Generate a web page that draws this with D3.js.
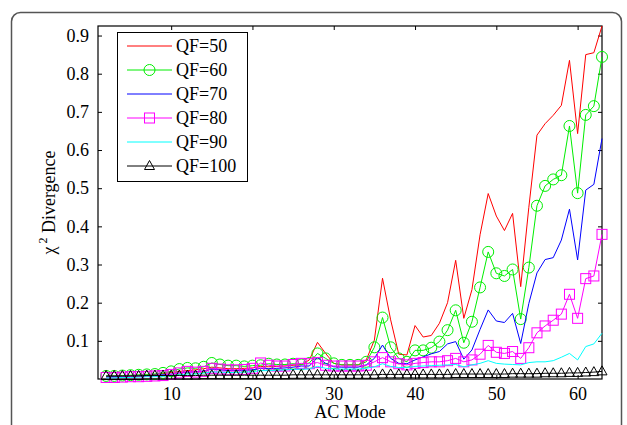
<!DOCTYPE html>
<html>
<head>
<meta charset="utf-8">
<script src="https://cdnjs.cloudflare.com/ajax/libs/d3/7.8.5/d3.min.js"></script>
<style>
  body { margin: 0; background: #fff; }
  text { font-family: "Liberation Serif", "Times New Roman", serif; }
</style>
</head>
<body>
<script>
var width = 627,
    height = 425;

// AC modes 2..63
var modes = d3.range(2, 64);

var qf50 = [0.006, 0.007, 0.008, 0.009, 0.010, 0.011, 0.012, 0.014, 0.017, 0.020, 0.022, 0.024, 0.027, 0.031, 0.029, 0.027, 0.027, 0.028, 0.029, 0.033, 0.032, 0.033, 0.034, 0.036,
  0.037, 0.050, 0.096, 0.067, 0.041, 0.037, 0.037, 0.037, 0.050, 0.102, 0.264, 0.155, 0.065, 0.063, 0.140, 0.110, 0.114, 0.146, 0.200, 0.311,
  0.159, 0.234, 0.378, 0.486, 0.427, 0.389, 0.434, 0.242, 0.450, 0.639, 0.669, 0.691, 0.717, 0.835, 0.643, 0.850, 0.855, 0.925];
var qf60 = [0.008, 0.008, 0.009, 0.010, 0.011, 0.012, 0.013, 0.016, 0.020, 0.026, 0.029, 0.028, 0.032, 0.042, 0.038, 0.035, 0.035, 0.033, 0.035, 0.036, 0.040, 0.038, 0.038, 0.040,
  0.038, 0.042, 0.067, 0.054, 0.041, 0.037, 0.037, 0.037, 0.045, 0.083, 0.161, 0.083, 0.054, 0.045, 0.075, 0.075, 0.082, 0.098, 0.128, 0.180,
  0.095, 0.150, 0.240, 0.333, 0.277, 0.270, 0.287, 0.157, 0.292, 0.454, 0.506, 0.523, 0.534, 0.663, 0.487, 0.692, 0.715, 0.844];
var qf70 = [0.005, 0.006, 0.006, 0.007, 0.008, 0.009, 0.010, 0.011, 0.013, 0.016, 0.018, 0.019, 0.021, 0.026, 0.024, 0.022, 0.022, 0.023, 0.024, 0.028, 0.027, 0.028, 0.029, 0.031,
  0.034, 0.034, 0.056, 0.041, 0.032, 0.031, 0.031, 0.031, 0.037, 0.054, 0.089, 0.054, 0.041, 0.040, 0.050, 0.058, 0.066, 0.072, 0.092, 0.098,
  0.052, 0.076, 0.130, 0.181, 0.152, 0.148, 0.172, 0.093, 0.198, 0.278, 0.313, 0.318, 0.364, 0.445, 0.312, 0.495, 0.510, 0.630];
var qf80 = [0.004, 0.004, 0.005, 0.006, 0.006, 0.007, 0.008, 0.009, 0.012, 0.016, 0.020, 0.018, 0.020, 0.028, 0.026, 0.024, 0.024, 0.025, 0.028, 0.042, 0.036, 0.034, 0.034, 0.038,
  0.041, 0.040, 0.043, 0.036, 0.034, 0.034, 0.034, 0.034, 0.036, 0.045, 0.056, 0.045, 0.040, 0.037, 0.041, 0.043, 0.045, 0.045, 0.048, 0.054,
  0.045, 0.050, 0.065, 0.088, 0.070, 0.067, 0.072, 0.054, 0.082, 0.121, 0.139, 0.154, 0.170, 0.222, 0.159, 0.263, 0.270, 0.379];
var qf90 = [0.003, 0.003, 0.004, 0.004, 0.005, 0.006, 0.006, 0.007, 0.009, 0.011, 0.013, 0.013, 0.015, 0.019, 0.018, 0.017, 0.017, 0.018, 0.019, 0.022, 0.022, 0.023, 0.024, 0.025,
  0.026, 0.026, 0.033, 0.028, 0.026, 0.026, 0.026, 0.026, 0.028, 0.032, 0.040, 0.033, 0.030, 0.030, 0.033, 0.034, 0.035, 0.036, 0.037, 0.038,
  0.032, 0.037, 0.041, 0.048, 0.041, 0.039, 0.038, 0.037, 0.043, 0.045, 0.045, 0.048, 0.057, 0.067, 0.050, 0.085, 0.092, 0.120];
var qf100 = [0.008, 0.008, 0.008, 0.008, 0.008, 0.009, 0.009, 0.009, 0.009, 0.009, 0.009, 0.009, 0.010, 0.010, 0.010, 0.010, 0.010, 0.010, 0.010, 0.010, 0.010, 0.010, 0.010, 0.011,
  0.011, 0.011, 0.011, 0.011, 0.011, 0.011, 0.011, 0.011, 0.011, 0.011, 0.012, 0.012, 0.012, 0.012, 0.012, 0.012, 0.012, 0.012, 0.012, 0.013,
  0.013, 0.013, 0.013, 0.013, 0.013, 0.013, 0.014, 0.014, 0.014, 0.014, 0.015, 0.015, 0.015, 0.016, 0.016, 0.017, 0.018, 0.020];

var seriesNames = ["QF=50", "QF=60", "QF=70", "QF=80", "QF=90", "QF=100"];
var seriesColors = ["#ff0000", "#00ee00", "#0000ff", "#ff00ff", "#00ffff", "#000000"];
var seriesMarkers = [null, "circle", null, "square", null, "triangle"];
var seriesValues = [qf50, qf60, qf70, qf80, qf90, qf100];

var xTicks = [10, 20, 30, 40, 50, 60];
var yTicks = [0.1, 0.2, 0.3, 0.4, 0.5, 0.6, 0.7, 0.8, 0.9];

var plotL = 98, plotR = 602, plotT = 26, plotB = 379;
var fs = "18px";

var x = d3.scaleLinear().domain([1, 63]).range([plotL, plotR]);
var y = d3.scaleLinear().domain([0, 0.925]).range([plotB, plotT]);

var svg = d3.select("body").append("svg")
    .attr("width", width)
    .attr("height", height);

// outer rounded frame
svg.append("rect")
    .attr("x", 11.5).attr("y", 12.5)
    .attr("width", 610).attr("height", 440)
    .attr("rx", 9)
    .attr("fill", "none")
    .attr("stroke", "#555")
    .attr("stroke-width", 1.5);

// axes (ticks pointing inward)
var tick = 4;
svg.append("g")
    .attr("transform", "translate(0," + plotB + ")")
    .call(d3.axisBottom(x).tickValues(xTicks).tickSizeInner(-tick).tickSizeOuter(0).tickPadding(8).tickFormat(d3.format("d")))
    .call(function(g) { g.select(".domain").remove(); });
svg.append("g")
    .attr("transform", "translate(0," + plotT + ")")
    .call(d3.axisTop(x).tickValues(xTicks).tickSizeInner(-tick).tickSizeOuter(0).tickFormat(""))
    .call(function(g) { g.select(".domain").remove(); });
svg.append("g")
    .attr("transform", "translate(" + plotL + ",0)")
    .call(d3.axisLeft(y).tickValues(yTicks).tickSizeInner(-tick).tickSizeOuter(0).tickPadding(9).tickFormat(d3.format(".1f")))
    .call(function(g) { g.select(".domain").remove(); });
svg.append("g")
    .attr("transform", "translate(" + plotR + ",0)")
    .call(d3.axisRight(y).tickValues(yTicks).tickSizeInner(-tick).tickSizeOuter(0).tickFormat(""))
    .call(function(g) { g.select(".domain").remove(); });

svg.selectAll(".tick line").attr("stroke", "#000");
svg.selectAll(".tick text")
    .attr("fill", "#000")
    .style("font-size", fs)
    .style("font-family", "'Liberation Serif', serif");

svg.append("rect")
    .attr("x", plotL).attr("y", plotT)
    .attr("width", plotR - plotL).attr("height", plotB - plotT)
    .attr("fill", "none")
    .attr("stroke", "#000")
    .attr("stroke-width", 1.2);

var line = d3.line()
    .x(function(d) { return x(d[0]); })
    .y(function(d) { return y(d[1]); });

function drawMarker(g, type, color, cx, cy) {
  if (type === "circle") {
    g.append("circle").attr("cx", cx).attr("cy", cy).attr("r", 5.5)
      .attr("fill", "none").attr("stroke", color).attr("stroke-width", 1);
  } else if (type === "square") {
    g.append("rect").attr("x", cx - 5).attr("y", cy - 5).attr("width", 10).attr("height", 10)
      .attr("fill", "none").attr("stroke", color).attr("stroke-width", 1);
  } else if (type === "triangle") {
    g.append("path").attr("d", "M" + cx + "," + (cy - 5.5) + "L" + (cx + 5) + "," + (cy + 3.5) + "L" + (cx - 5) + "," + (cy + 3.5) + "Z")
      .attr("fill", "none").attr("stroke", color).attr("stroke-width", 1);
  }
}

seriesValues.forEach(function(vals, k) {
  var pts = modes.map(function(m, i) { return [m, vals[i]]; });
  var g = svg.append("g");
  g.append("path")
      .datum(pts)
      .attr("d", line)
      .attr("fill", "none")
      .attr("stroke", seriesColors[k])
      .attr("stroke-width", 1);
  if (seriesMarkers[k]) {
    pts.forEach(function(p) {
      drawMarker(g, seriesMarkers[k], seriesColors[k], x(p[0]), y(p[1]));
    });
  }
});

// legend
var lg = svg.append("g");
lg.append("rect")
    .attr("x", 117.5).attr("y", 32.5)
    .attr("width", 130).attr("height", 149)
    .attr("fill", "#fff")
    .attr("stroke", "#000");
seriesNames.forEach(function(name, k) {
  var ly = 46 + k * 24;
  lg.append("line")
      .attr("x1", 127).attr("x2", 172)
      .attr("y1", ly).attr("y2", ly)
      .attr("stroke", seriesColors[k]);
  if (seriesMarkers[k]) drawMarker(lg, seriesMarkers[k], seriesColors[k], 149.5, ly);
  lg.append("text")
      .attr("x", 176).attr("y", ly + 6)
      .style("font-size", fs)
      .text(name);
});

// axis titles
svg.append("text")
    .attr("x", (plotL + plotR) / 2).attr("y", 418)
    .attr("text-anchor", "middle")
    .style("font-size", fs)
    .text("AC Mode");

var yl = svg.append("text")
    .attr("transform", "translate(55," + ((plotT + plotB) / 2) + ") rotate(-90)")
    .attr("text-anchor", "middle")
    .style("font-size", fs);
yl.append("tspan").text("\u03c7");
yl.append("tspan").attr("dy", -8).style("font-size", "12px").text(" 2");
yl.append("tspan").attr("dy", 8).text(" Divergence");
</script>
</body>
</html>
